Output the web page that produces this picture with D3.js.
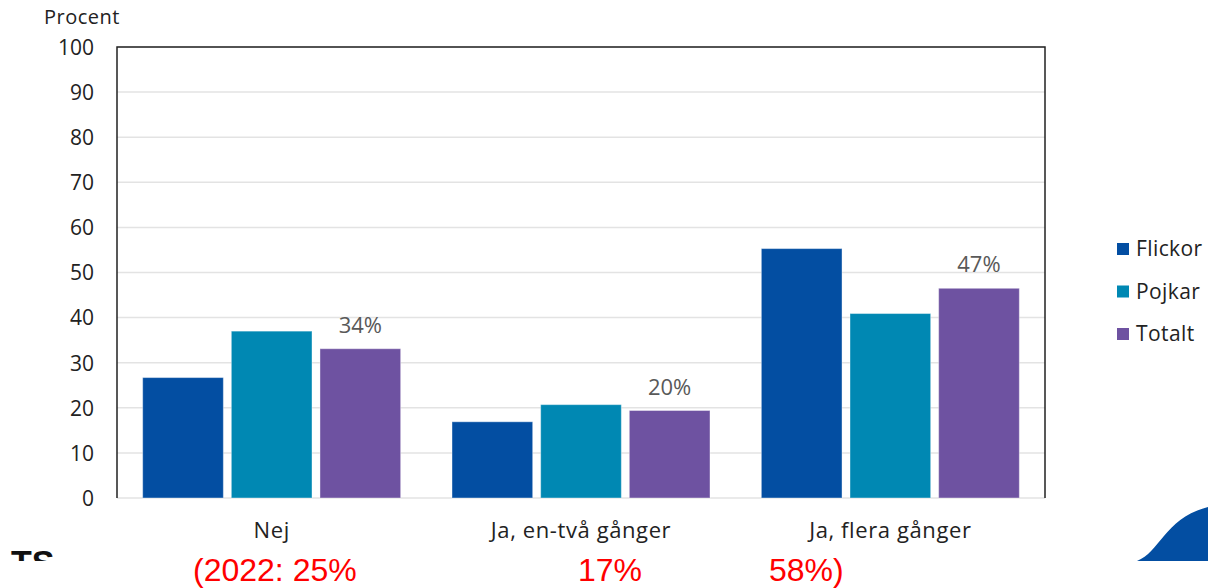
<!DOCTYPE html>
<html><head><meta charset="utf-8">
<script src="https://cdn.jsdelivr.net/npm/d3@7"></script>
<style>body{margin:0;background:#fff}svg{display:block}</style>
</head><body>
<script>
const categories = ["Nej", "Ja, en-två gånger", "Ja, flera gånger"];
const seriesNames = ["Flickor", "Pojkar", "Totalt"];
const flickor = [26.7, 16.9, 55.3];
const pojkar = [37.0, 20.7, 40.9];
const totalt = [33.1, 19.4, 46.5];
const totalLabels = ["34%", "20%", "47%"];
const yTicks = [0, 10, 20, 30, 40, 50, 60, 70, 80, 90, 100];
const notes = ["(2022: 25%", "17%", "58%)"];
const colors = ["#034EA2", "#0088B3", "#6E52A1"];

(function () {
const W = 1216, H = 588;
const svg = d3.select("body").append("svg").attr("width", W).attr("height", H);
const font = "Open Sans, Noto Sans, sans-serif";
const pLeft = 117, pRight = 1045, pTop = 47, pBottom = 498;

const x0 = d3.scaleBand().domain(categories).range([pLeft, pRight]).paddingInner(0.166).paddingOuter(0.083);
const x1 = d3.scaleBand().domain(seriesNames).range([0, x0.bandwidth()]).paddingInner(0.09);
const y = d3.scaleLinear().domain([0, 100]).range([pBottom, pTop]);

// gridlines
svg.append("g").selectAll("line").data(yTicks).join("line")
  .attr("x1", pLeft).attr("x2", pRight)
  .attr("y1", d => y(d)).attr("y2", d => y(d))
  .attr("stroke", "#e3e3e3").attr("stroke-width", 1.5);

// y axis labels
const yAxis = d3.axisLeft(y).tickValues(yTicks).tickSize(0).tickPadding(0);
const yg = svg.append("g").attr("transform", `translate(${pLeft - 23},0)`).call(yAxis);
yg.select(".domain").remove();
yg.selectAll("text").attr("font-family", font).attr("font-size", 21).attr("fill", "#222").attr("dy", "0.35em");

// bars
const seriesData = [flickor, pojkar, totalt];
const groups = svg.append("g").selectAll("g").data(categories).join("g")
  .attr("transform", d => `translate(${x0(d)},0)`);
groups.selectAll("rect").data((c, i) => seriesNames.map((s, j) => ({s, v: seriesData[j][i], j})))
  .join("rect")
  .attr("x", d => x1(d.s)).attr("width", x1.bandwidth())
  .attr("y", d => y(d.v)).attr("height", d => y(0) - y(d.v))
  .attr("fill", d => colors[d.j]).attr("stroke", "#ffffff").attr("stroke-opacity", 0.4).attr("stroke-width", 1);

// total labels
groups.append("text")
  .attr("x", x1("Totalt") + x1.bandwidth() / 2)
  .attr("y", (c, i) => y(totalt[i]) - 16)
  .attr("text-anchor", "middle").attr("font-family", font).attr("font-size", 22).attr("fill", "#595959")
  .text((c, i) => totalLabels[i]);

// frame: left, top, right
svg.append("path").attr("d", `M${pLeft},${pBottom}V${pTop}H${pRight}V${pBottom}`)
  .attr("fill", "none").attr("stroke", "#222").attr("stroke-width", 1.5);

// x labels
const xAxis = d3.axisBottom(x0).tickSize(0).tickPadding(0);
const xg = svg.append("g").attr("transform", `translate(0,${pBottom + 24})`).call(xAxis);
xg.select(".domain").remove();
xg.selectAll("text").attr("font-family", font).attr("font-size", 22).attr("letter-spacing", 0.6).attr("fill", "#222");

// y title
svg.append("text").attr("x", 44).attr("y", 24).attr("font-family", font).attr("font-size", 20).attr("letter-spacing", 0.5).attr("fill", "#222").text("Procent");

// legend
const lg = svg.append("g").selectAll("g").data(seriesNames).join("g")
  .attr("transform", (d, i) => `translate(1117,${249 + i * 42.5})`);
lg.append("rect").attr("x", 0).attr("y", -6).attr("width", 12).attr("height", 12).attr("fill", (d, i) => colors[i]);
lg.append("text").attr("x", 19).attr("y", 0).attr("dy", "0.35em").attr("font-family", font).attr("font-size", 21).attr("letter-spacing", 0.4).attr("fill", "#222").text(d => d);

// red notes
const noteX = [193, 578, 769];
svg.append("g").selectAll("text").data(notes).join("text")
  .attr("x", (d, i) => noteX[i]).attr("y", 581)
  .attr("font-family", "Liberation Sans, Arial, sans-serif").attr("font-size", 32).attr("fill", "#ff0000")
  .text(d => d);

// clipped TS logo text
svg.append("clipPath").attr("id", "tsclip").append("rect").attr("x", 0).attr("y", 540).attr("width", 100).attr("height", 21);
svg.append("text").attr("x", 11).attr("y", 574).attr("clip-path", "url(#tsclip)")
  .attr("font-family", "Liberation Sans, Arial, sans-serif").attr("font-weight", "bold").attr("font-size", 34).attr("fill", "#111").text("TS");

// blue blob
svg.append("path").attr("d", "M1137,561 C1160,552 1165,518 1208,507 L1208,561 Z").attr("fill", "#034EA2");
})();
</script>
</body></html>
